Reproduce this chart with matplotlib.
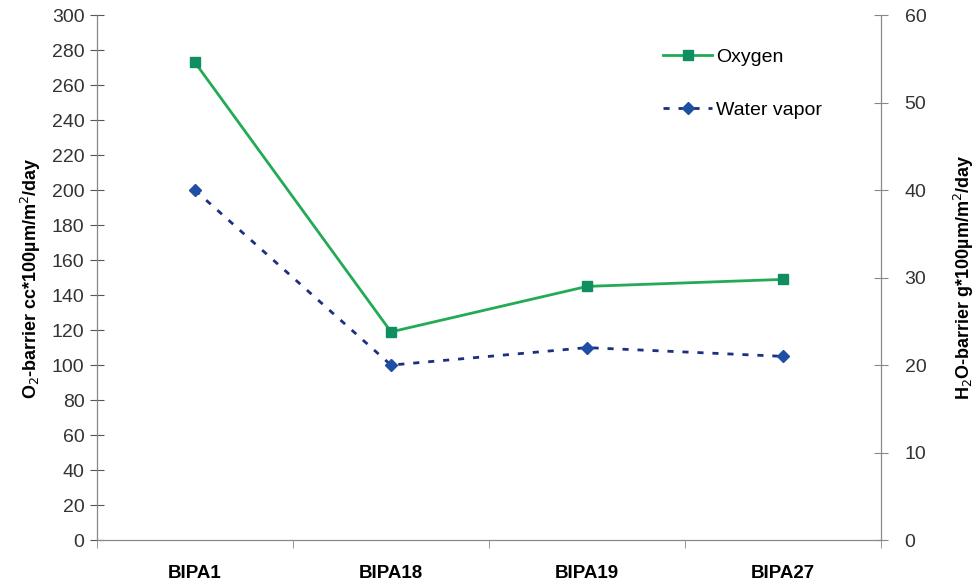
import matplotlib
matplotlib.use("Agg")
import matplotlib.pyplot as plt
import numpy as np

plt.rcParams['font.family'] = ['Liberation Sans', 'DejaVu Sans']

categories = ["BIPA1", "BIPA18", "BIPA19", "BIPA27"]
oxygen = [273, 119, 145, 149]
water_vapor = [40, 20, 22, 21]

fig = plt.figure(figsize=(9.8, 5.87), dpi=100)
ax = fig.add_axes([0.099, 0.080, 0.800, 0.894])
ax2 = ax.twinx()

x = np.arange(len(categories))
ax.plot(x, oxygen, color="#22aa55", lw=2, marker="s", ms=7,
        mfc="#0f8f5f", mec="#0f8f5f", label="Oxygen")
ax2.plot(x, water_vapor, color="#1c2f80", lw=2, ls=(0, (2.2, 3.2)),
         marker="D", ms=6, mfc="#1f4fa5", mec="#1f4fa5", label="Water vapor")

ax.set_xlim(-0.5, len(categories) - 0.5)
ax.set_ylim(0, 300)
ax2.set_ylim(0, 60)
ax.set_yticks(np.arange(0, 301, 20))
ax2.set_yticks(np.arange(0, 61, 10))

ax.set_xticks(x)
ax.set_xticklabels(categories, fontweight="bold", fontsize=13.5)
ax.set_xticks(np.arange(-0.5, len(categories), 1), minor=True)
ax.tick_params(axis="x", which="major", length=0, pad=18)
ax.tick_params(axis="x", which="minor", length=6, color="#888888", direction="out")

ax.tick_params(axis="y", direction="inout", length=10, color="#555555",
               labelsize=14, labelcolor="#333333", pad=4)
ax2.tick_params(axis="y", direction="inout", length=10, color="#888888",
                labelsize=14, labelcolor="#333333", pad=12)

for a in (ax, ax2):
    a.spines["top"].set_visible(False)
for side in ("left", "bottom", "right"):
    ax.spines[side].set_color("#888888")
    ax2.spines[side].set_color("#888888")
ax.spines["left"].set_color("#444444")

ax.set_ylabel("O$_2$-barrier cc*100µm/m$^2$/day", fontsize=13, fontweight="bold", labelpad=6)
ax2.set_ylabel("H$_2$O-barrier g*100µm/m$^2$/day", fontsize=13, fontweight="bold", labelpad=18)

h1, l1 = ax.get_legend_handles_labels()
h2, l2 = ax2.get_legend_handles_labels()
ax.legend(h1 + h2, l1 + l2, loc="upper left", bbox_to_anchor=(0.7, 0.97),
          frameon=False, fontsize=14, handlelength=2.5, labelspacing=1.8,
          handletextpad=0.2)

fig.savefig("out.png", dpi=100)
